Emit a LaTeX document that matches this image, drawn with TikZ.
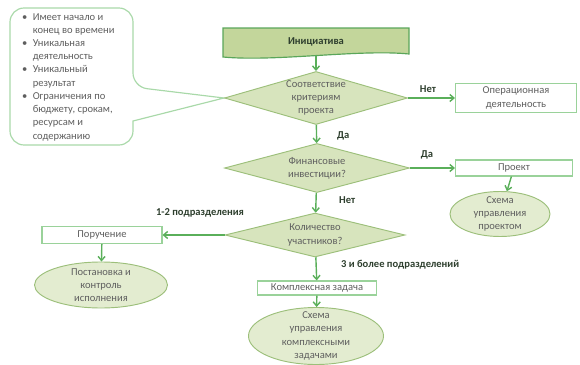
\documentclass[tikz,border=0pt]{standalone}
\usepackage{fontspec}
\setmainfont{Carlito}
\usetikzlibrary{arrows.meta,shapes.geometric}
\definecolor{leaf}{HTML}{5AAF5A}
\definecolor{mint}{HTML}{9AD29A}
\definecolor{olive}{HTML}{D7E4BD}
\definecolor{oliveline}{HTML}{9CBF7A}
\definecolor{pale}{HTML}{E3ECD0}
\definecolor{moss}{HTML}{C3D69B}
\definecolor{mossline}{HTML}{5AA65A}
\definecolor{ink}{HTML}{5F5F5F}
\definecolor{darkink}{HTML}{2E3F2E}

\begin{document}
\begin{tikzpicture}[x=0.03cm,y=-0.03cm,
  font=\fontsize{9}{11.3}\selectfont, text=ink,
  box/.style={rectangle, draw=mint, line width=0.9pt, fill=white,
              minimum width=3.6cm, minimum height=0.5cm, align=center, inner sep=1pt},
  dec/.style={diamond, draw=oliveline, line width=0.8pt, fill=olive, inner sep=0pt},
  oval/.style={ellipse, draw=oliveline, line width=0.8pt, fill=pale, inner sep=0pt},
  txt/.style={align=center, inner sep=0pt},
  arr/.style={-{Straight Barb[length=3.5pt,width=6pt]}, line width=1.2pt, color=leaf},
  lbl/.style={font=\fontsize{9}{11}\selectfont\bfseries, text=darkink},
  callout/.style={draw=mint!85, line width=1pt, fill=white},
]
  \useasboundingbox (0,0) rectangle (580,365);
  \draw[callout, rounded corners=12pt] (70,8) -- (133,8) -- (133,87) [sharp corners] -- (224,98)
    -- (133,121) [rounded corners=12pt] -- (133,145) -- (10,145) -- (10,8) -- cycle;
  \node[align=left, anchor=north west, inner sep=0pt] (list) at (22,13)
    {\makebox[9pt][l]{\textbullet}Имеет начало и\\\hspace*{9pt}конец во времени\\
     \makebox[9pt][l]{\textbullet}Уникальная\\\hspace*{9pt}деятельность\\
     \makebox[9pt][l]{\textbullet}Уникальный\\\hspace*{9pt}результат\\
     \makebox[9pt][l]{\textbullet}Ограничения по\\\hspace*{9pt}бюджету, срокам,\\
     \hspace*{9pt}ресурсам и\\\hspace*{9pt}содержанию};

  \draw[draw=mossline, fill=moss, line width=1pt] (223,28) -- (409,28) -- (409,54)
    .. controls (360,49) and (275,62) .. (223,57) -- cycle;
  \node[minimum width=5.58cm, minimum height=0.8cm, font=\fontsize{9}{11}\selectfont\bfseries, text=darkink] (ini) at (316,42) {Инициатива};

  \node[dec, minimum width=5.49cm, minimum height=1.59cm] (d1) at (316,98) {};
  \node[txt] (d1t) at (d1) {Соответствие\\критериям\\проекта};
  \node[dec, minimum width=5.55cm, minimum height=1.47cm] (d2) at (317,168) {};
  \node[txt] (d2t) at (d2) {Финансовые\\инвестиции?};
  \node[dec, minimum width=5.4cm, minimum height=1.32cm] (d3) at (315,235) {};
  \node[txt] (d3t) at (d3) {Количество\\участников?};

  \node[box, minimum width=3.63cm, minimum height=0.87cm] (op) at (516,98) {Операционная\\деятельность};
  \node[box, minimum width=3.51cm, minimum height=0.48cm] (proj) at (514,168) {Проект};
  \node[oval, minimum width=3cm, minimum height=1.35cm] (projo) at (500,214) {};
  \node[txt] (projt) at (projo) {Схема\\управления\\проектом};
  \node[box, minimum width=3.6cm, minimum height=0.51cm] (por) at (102,235) {Поручение};
  \node[oval, minimum width=3.99cm, minimum height=1.38cm] (poro) at (101,285) {};
  \node[txt] (port) at (poro) {Постановка и\\контроль\\исполнения};
  \node[box, minimum width=3.57cm, minimum height=0.42cm] (kz) at (317,288) {Комплексная задача};
  \node[oval, minimum width=4.05cm, minimum height=1.71cm] (kzo) at (316,336) {};
  \node[txt] (kzt) at (kzo) {Схема\\управления\\комплексными\\задачами};

  \draw[arr](ini)--(d1); \draw[arr](d1)--(op); \draw[arr](d1)--(d2);
  \draw[arr](d2)--(proj); \draw[arr](proj)--(projo); \draw[arr](d2)--(d3);
  \draw[arr](d3)--(por); \draw[arr](por)--(poro); \draw[arr](d3)--(kz);
  \draw[arr](kz)--(kzo);

  \node[lbl] (no1) at (428,89) {Нет};
  \node[lbl, anchor=west] (yes1) at (333,136) {Да};
  \node[lbl] (yes2) at (427,155) {Да};
  \node[lbl, anchor=west] (no2) at (335,200) {Нет};
  \node[lbl] (few) at (200,213) {1-2 подразделения};
  \node[lbl, anchor=west] (many) at (337,265) {3 и более подразделений};
\end{tikzpicture}
\end{document}
